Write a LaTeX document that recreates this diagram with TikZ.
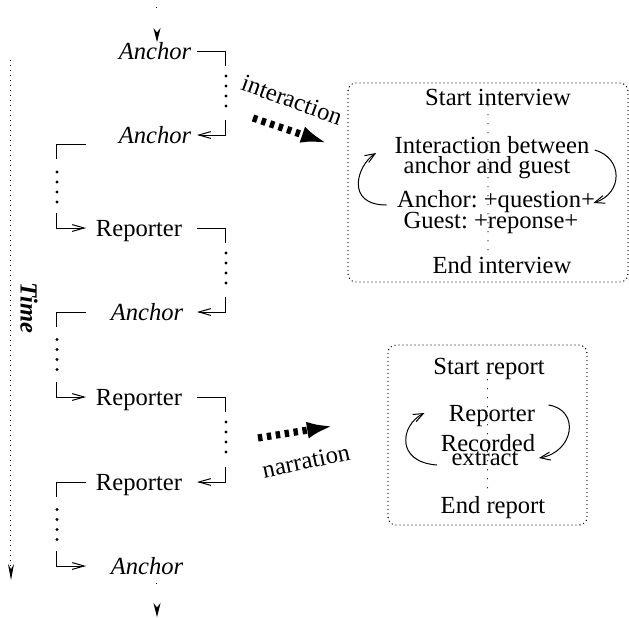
\documentclass[tikz,border=0pt]{standalone}
\usepackage{fontspec}
\setmainfont{Liberation Serif}
\usetikzlibrary{arrows.meta, calc}
\frenchspacing

\begin{document}
\begin{tikzpicture}[
  x=0.5pt, y=-0.5pt, line width=0.5pt,
  fsz/.style={font=\fontsize{12.3}{14}\selectfont},
  role/.style={fsz, inner sep=0pt, text height=8.5pt, text depth=0pt},
  anc/.style={role, font=\fontsize{12.3}{14}\selectfont\itshape},
  txt/.style={fsz, inner sep=0pt, anchor=base},
  box/.style={draw, rounded corners=4pt, line width=0.7pt, line cap=round,
    dash pattern=on 0pt off 2pt},
  vline/.style={line width=0.7pt, line cap=round, dash pattern=on 0pt off 4.5pt},
  dots/.style={line width=1.6pt, line cap=round, dash pattern=on 0pt off 5pt},
  handover/.style={-{Straight Barb[length=6pt,width=3.4pt]}},
  cyc/.style={-{Straight Barb[length=5pt,width=4pt]}},
  stub/.style={dash pattern=on 0.5pt off 12pt, -{Stealth[length=7pt,width=3.5pt]}},
  tline/.style={dash pattern=on 0.5pt off 2pt, -{Stealth[length=8pt,width=3pt]}},
  flow/.style={line width=3.6pt, dash pattern=on 2.2pt off 2.3pt,
    -{Latex[length=13pt,width=8.5pt]}},
  >=Stealth
]
  \useasboundingbox (0,0) rectangle (629,618);

  %% TIME AXIS
  \coordinate (t0) at (11,60);
  \coordinate (t1) at (11,580);
  \draw[tline] (t0) -- (t1);
  \node[fsz, font=\fontsize{12.3}{14}\selectfont\bfseries\itshape, rotate=-90]
    (time) at (29,308) {Time};

  %% SPEAKERS, top to bottom
  \node[anc]  (a1) at (155,51)  {Anchor};
  \node[anc]  (a2) at (155,135) {Anchor};
  \node[role] (r1) at (139,228) {Reporter};
  \node[anc]  (a3) at (147,312) {Anchor};
  \node[role] (r2) at (139,397) {Reporter};
  \node[role] (r3) at (139,482) {Reporter};
  \node[anc]  (a4) at (147,566) {Anchor};

  %% rails of the hand-over brackets
  \coordinate (rx) at (197,0);
  \coordinate (rr) at (226,0);
  \coordinate (lx) at (86,0);
  \coordinate (lr) at (57,0);

  %% in and out of the sequence
  \coordinate (s0) at (157,7);
  \coordinate (s1) at (157,617);
  \draw[stub] (s0) -- (s0 |- a1.north);
  \draw[stub, shorten <=4pt] (a4.south -| s1) -- (s1);

  %% a1 -> a2 (right)
  \draw (a1 -| rx) -| ($(a1 -| rr)+(0,15)$);
  \draw[dots] ($(a1 -| rr)+(0,25)$) -- ($(a2 -| rr)+(0,-27.5)$);
  \draw[handover] ($(a2 -| rr)+(0,-15)$) |- (a2 -| rx);
  %% a2 -> r1 (left)
  \draw (a2.south -| lx) -| ($(a2.south -| lr)+(0,15)$);
  \draw[dots] ($(a2.south -| lr)+(0,28)$) -- ($(r1 -| lr)+(0,-26)$);
  \draw[handover] ($(r1 -| lr)+(0,-15)$) |- (r1 -| lx);
  %% r1 -> a3 (right)
  \draw (r1 -| rx) -| ($(r1 -| rr)+(0,15)$);
  \draw[dots] ($(r1 -| rr)+(0,25)$) -- ($(a3 -| rr)+(0,-27.5)$);
  \draw[handover] ($(a3 -| rr)+(0,-15)$) |- (a3 -| rx);
  %% a3 -> r2 (left)
  \draw (a3 -| lx) -| ($(a3 -| lr)+(0,15)$);
  \draw[dots] ($(a3 -| lr)+(0,27.5)$) -- ($(r2 -| lr)+(0,-26)$);
  \draw[handover] ($(r2 -| lr)+(0,-15)$) |- (r2 -| lx);
  %% r2 -> r3 (right)
  \draw (r2 -| rx) -| ($(r2 -| rr)+(0,15)$);
  \draw[dots] ($(r2 -| rr)+(0,25)$) -- ($(r3 -| rr)+(0,-27.5)$);
  \draw[handover] ($(r3 -| rr)+(0,-15)$) |- (r3 -| rx);
  %% r3 -> a4 (left)
  \draw (r3 -| lx) -| ($(r3 -| lr)+(0,15)$);
  \draw[dots] ($(r3 -| lr)+(0,27.5)$) -- ($(a4 -| lr)+(0,-26)$);
  \draw[handover] ($(a4 -| lr)+(0,-15)$) |- (a4 -| lx);

  %% INTERVIEW BOX
  \node[box, minimum width=140pt, minimum height=99.5pt] (box1) at (488,182.5) {};
  \node[txt] (si) at (498,105) {Start interview};
  \node[txt] (ib) at (492,153) {Interaction between};
  \node[txt] (ag) at (487,173) {anchor and guest};
  \node[txt] (aq) at (496,207) {Anchor: +question+};
  \node[txt] (gr) at (491,228) {Guest: +reponse+};
  \node[txt] (ei) at (502,273) {End interview};
  \draw[vline] (si.south -| box1.center) -- (ei.north -| box1.center);
  \draw[cyc] ($(aq.base west)+(-10,-2)$) .. controls +(-42,0) and +(-19,12) .. ($(ib.base west)+(-18,0)$);
  \draw[cyc] ($(ib.base east)+(5,-3)$) .. controls +(28,8) and +(30,-10) .. ($(aq.base east)+(-2,-4)$);

  %% REPORT BOX
  \node[box, minimum width=99.5pt, minimum height=90pt] (box2) at (487.5,435) {};
  \node[txt] (sr) at (489,374) {Start report};
  \node[txt] (rp) at (492,421) {Reporter};
  \node[txt] (rc) at (488,451) {Recorded};
  \node[txt] (ex) at (485,465) {extract};
  \node[txt] (er) at (493,513) {End report};
  \draw[vline] (sr.south -| box2.center) -- (er.north -| box2.center);
  \draw[cyc] ($(ex.base west)+(-14,0)$) .. controls +(-42,-3) and +(-24,12) .. ($(rp.base west)+(-24,-8)$);
  \draw[cyc] ($(rp.base east)+(13,-16)$) .. controls +(32,5) and +(35,-6) .. ($(ex.base east)+(20,-7)$);

  %% FLOW ARROWS towards the boxes
  \coordinate (i0) at (253,118);
  \coordinate (i1) at (327,143);
  \draw[flow] (i0) -- (i1);
  \node[fsz, rotate=-20] (ilab) at (292,100) {interaction};
  \coordinate (n0) at (258,438);
  \coordinate (n1) at (333,426);
  \draw[flow] (n0) -- (n1);
  \node[fsz, rotate=12] (nlab) at (306,461) {narration};

\end{tikzpicture}
\end{document}
